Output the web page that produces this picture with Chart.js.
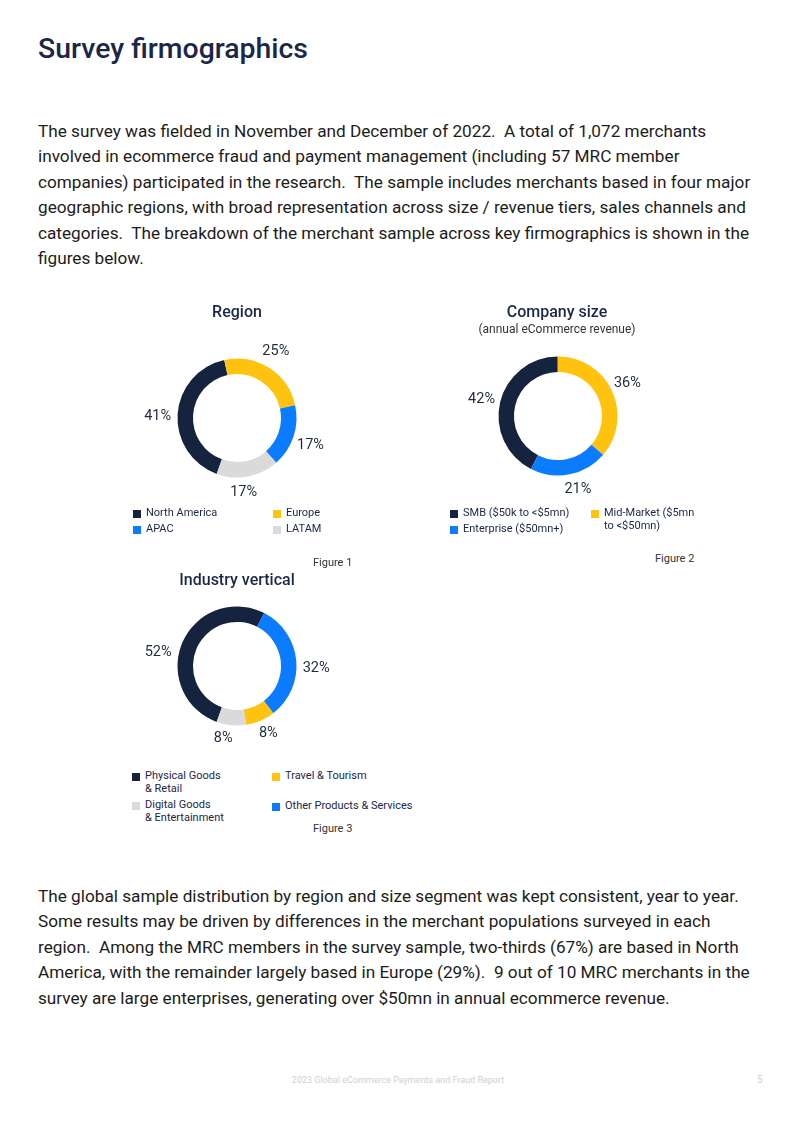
<!DOCTYPE html>
<html>
<head>
<meta charset="utf-8">
<script src="https://cdn.jsdelivr.net/npm/chart.js@4"></script>
<style>
  html, body { margin: 0; padding: 0; background: #fff; }
  body { width: 800px; height: 1130px; position: relative; overflow: hidden; font-family: Roboto, "Noto Sans", sans-serif; }
  .abs { position: absolute; }
  .h1 { left: 38px; top: 35px; font-size: 28.4px; line-height: 28px; font-weight: 500; color: #1b2747; white-space: pre; }
  .para { left: 38px; font-size: 17.2px; line-height: 25.5px; color: #1c1c1c; }
  .para div { white-space: pre; }
  .ctitle { width: 300px; text-align: center; font-size: 16px; line-height: 20px; font-weight: 500; color: #1b2747; }
  .csub { width: 300px; text-align: center; font-size: 12px; line-height: 14px; color: #333; }
  .leg { font-size: 11px; line-height: 12.5px; color: #1b2747; white-space: pre; }
  .leg .sq { position: absolute; left: 0; top: 3px; width: 8px; height: 8px; }
  .leg .tx { position: absolute; left: 13px; top: 0; }
  .fig { font-size: 11px; line-height: 14px; color: #333; white-space: pre; }
  .foot { font-size: 9px; line-height: 12px; color: #cfcfcf; white-space: pre; }
  canvas { position: absolute; }
</style>
</head>
<body>
<div class="abs h1">Survey firmographics</div>

<div class="abs para" style="top:118.5px">
<div>The survey was fielded in November and December of 2022.  A total of 1,072 merchants</div>
<div>involved in ecommerce fraud and payment management (including 57 MRC member</div>
<div>companies) participated in the research.  The sample includes merchants based in four major</div>
<div>geographic regions, with broad representation across size / revenue tiers, sales channels and</div>
<div>categories.  The breakdown of the merchant sample across key firmographics is shown in the</div>
<div>figures below.</div>
</div>

<canvas id="region" width="200" height="200" style="left:137px; top:318px"></canvas>
<canvas id="size" width="200" height="200" style="left:458px; top:316px"></canvas>
<canvas id="industry" width="200" height="200" style="left:137px; top:566px"></canvas>

<div class="abs para" style="top:883.5px">
<div>The global sample distribution by region and size segment was kept consistent, year to year.</div>
<div>Some results may be driven by differences in the merchant populations surveyed in each</div>
<div>region.  Among the MRC members in the survey sample, two-thirds (67%) are based in North</div>
<div>America, with the remainder largely based in Europe (29%).  9 out of 10 MRC merchants in the</div>
<div>survey are large enterprises, generating over $50mn in annual ecommerce revenue.</div>
</div>

<div class="abs foot" style="left:0; width:796px; text-align:center; top:1074px">2023 Global eCommerce Payments and Fraud Report</div>
<div class="abs foot" style="left:757px; top:1074px; font-size:10px">5</div>

<script>
// Region (Figure 1)
const regionLabels = ['North America', 'Europe', 'APAC', 'LATAM'];
const regionValues = [41, 25, 17, 17];

// Company size (Figure 2)
const sizeLabels = ['SMB ($50k to <$5mn)', 'Mid-Market ($5mn\nto <$50mn)', 'Enterprise ($50mn+)'];
const sizeValues = [42, 36, 21];

// Industry vertical (Figure 3)
const industryLabels = ['Physical Goods\n& Retail', 'Other Products & Services', 'Travel & Tourism', 'Digital Goods\n& Entertainment'];
const industryValues = [52, 32, 8, 8];

const NAVY = '#15233f', YELLOW = '#FFC20E', BLUE = '#0B7BFF', GREY = '#DADADA';
const regionColors = [NAVY, YELLOW, BLUE, GREY];
const sizeColors = [NAVY, YELLOW, BLUE];
const industryColors = [NAVY, BLUE, YELLOW, GREY];

// percent labels outside the ring (small per-label nudges, like the hand placed originals)
const outsideLabels = {
  id: 'outsideLabels',
  afterDatasetsDraw(chart, args, opts) {
    const ctx = chart.ctx;
    const meta = chart.getDatasetMeta(0);
    const vals = chart.data.datasets[0].data;
    const nudge = opts.nudge || [];
    ctx.save();
    ctx.font = '14.5px Roboto';
    ctx.fillStyle = '#1f2a3f';
    ctx.textAlign = 'center';
    ctx.textBaseline = 'middle';
    meta.data.forEach((arc, i) => {
      const p = arc.getProps(['x', 'y', 'startAngle', 'endAngle', 'outerRadius'], true);
      const mid = (p.startAngle + p.endAngle) / 2;
      const r = p.outerRadius + opts.offset;
      const n = nudge[i] || [0, 0];
      ctx.fillText(vals[i] + '%', p.x + Math.cos(mid) * r + n[0], p.y + Math.sin(mid) * r + n[1]);
    });
    ctx.restore();
  }
};

function donut(id, labels, values, colors, rotation, offset, nudge) {
  return new Chart(document.getElementById(id), {
    type: 'doughnut',
    data: {
      labels: labels,
      datasets: [{ data: values, backgroundColor: colors, borderWidth: 0 }]
    },
    options: {
      responsive: false,
      animation: false,
      rotation: rotation,
      radius: 59.5,
      cutout: '74%',
      layout: { padding: 0 },
      plugins: {
        legend: { display: false },
        tooltip: { enabled: false },
        outsideLabels: { offset: offset, nudge: nudge }
      }
    },
    plugins: [outsideLabels]
  });
}

donut('region', regionLabels, regionValues, regionColors, -160, 20, [[0, 4], [-4, 0], [-2, 3], [-8, -4]]);
donut('size', sizeLabels, sizeValues, sizeColors, -153, 17, [[-2, 1], [0, -1], [5, -2]]);
donut('industry', industryLabels, industryValues, industryColors, -160, 20, [[-6, 18], [0, 10], [0, -6], [-6, -7]]);

// html bits: titles, legends, figure captions
function addDiv(cls, text, style) {
  const d = document.createElement('div');
  d.className = 'abs ' + cls;
  d.textContent = text;
  Object.assign(d.style, style);
  document.body.appendChild(d);
  return d;
}
function legendItem(x, y, color, text) {
  const d = addDiv('leg', '', { left: x + 'px', top: y + 'px' });
  const sq = document.createElement('div');
  sq.className = 'sq';
  sq.style.background = color;
  const tx = document.createElement('div');
  tx.className = 'tx';
  tx.textContent = text;
  d.appendChild(sq);
  d.appendChild(tx);
}

addDiv('ctitle', 'Region', { left: (237 - 150) + 'px', top: '302px' });
addDiv('ctitle', 'Company size', { left: (557 - 150) + 'px', top: '302px' });
addDiv('csub', '(annual eCommerce revenue)', { left: (557 - 150) + 'px', top: '322px' });
addDiv('ctitle', 'Industry vertical', { left: (237 - 150) + 'px', top: '570px' });

// legend slots [x, y] for each series index
const regionSlots = [[133, 507], [273, 507], [133, 523], [273, 523]];
const sizeSlots = [[450, 507], [591, 507], [450, 523]];
const industrySlots = [[132, 770], [272, 800], [272, 770], [132, 799]];
regionLabels.forEach((l, i) => legendItem(regionSlots[i][0], regionSlots[i][1], regionColors[i], l));
sizeLabels.forEach((l, i) => legendItem(sizeSlots[i][0], sizeSlots[i][1], sizeColors[i], l));
industryLabels.forEach((l, i) => legendItem(industrySlots[i][0], industrySlots[i][1], industryColors[i], l));

addDiv('fig', 'Figure 1', { left: '313px', top: '556px' });
addDiv('fig', 'Figure 2', { left: '655px', top: '552px' });
addDiv('fig', 'Figure 3', { left: '313px', top: '822px' });
</script>
</body>
</html>
